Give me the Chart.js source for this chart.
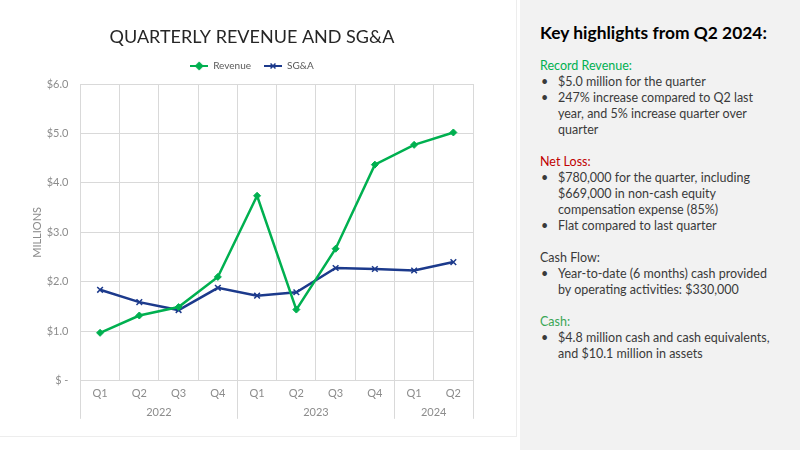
<!DOCTYPE html>
<html>
<head>
<meta charset="utf-8">
<script src="https://cdn.jsdelivr.net/npm/chart.js@4.4.1/dist/chart.umd.min.js"></script>
<style>
html, body { margin: 0; padding: 0; background: #fff; }
body { width: 800px; height: 450px; position: relative; overflow: hidden; font-family: Lato, "Open Sans", sans-serif; }
#chartBox { position: absolute; left: 0; top: 0; width: 516px; height: 436px; border-right: 1px solid #ededed; border-bottom: 1px solid #ededed; }
#side { position: absolute; left: 520px; top: 0; width: 280px; height: 450px; background: #f2f2f2; color: #3a3a3a; }
#side h2 { position: absolute; left: 20px; top: 21px; margin: 0; font-size: 17.4px; line-height: 24px; font-weight: 700; color: #000; white-space: nowrap; }
#notes { position: absolute; left: 20px; top: 58px; font-size: 12.5px; line-height: 16px; white-space: nowrap; }
#notes .gap { height: 16px; }
#notes ul { list-style: none; margin: 0; padding: 0; }
#notes li { position: relative; padding-left: 18px; }
#notes li:before { content: "\2022"; position: absolute; left: 1px; }
.green { color: #00b050; }
.red { color: #c00000; }
.cash { color: #3aa655; }
</style>
</head>
<body>
<div id="chartBox"><canvas id="chart" width="516" height="436"></canvas></div>
<div id="side">
  <h2>Key highlights from Q2 2024:</h2>
  <div id="notes">
    <div class="green">Record Revenue:</div>
    <ul>
      <li>$5.0 million for the quarter</li>
      <li>247% increase compared to Q2 last<br>year, and 5% increase quarter over<br>quarter</li>
    </ul>
    <div class="gap"></div>
    <div class="red">Net Loss:</div>
    <ul>
      <li>$780,000 for the quarter, including<br>$669,000 in non-cash equity<br>compensation expense (85%)</li>
      <li>Flat compared to last quarter</li>
    </ul>
    <div class="gap"></div>
    <div>Cash Flow:</div>
    <ul>
      <li>Year-to-date (6 months) cash provided<br>by operating activities: $330,000</li>
    </ul>
    <div class="gap"></div>
    <div class="cash">Cash:</div>
    <ul>
      <li>$4.8 million cash and cash equivalents,<br>and $10.1 million in assets</li>
    </ul>
  </div>
</div>
<script>
// quarters and their year groups
const quarters = ['Q1', 'Q2', 'Q3', 'Q4', 'Q1', 'Q2', 'Q3', 'Q4', 'Q1', 'Q2'];
const years = ['2022', '2022', '2022', '2022', '2023', '2023', '2023', '2023', '2024', '2024'];

// values in $ millions
const revenue = [0.97, 1.32, 1.49, 2.10, 3.74, 1.44, 2.67, 4.37, 4.77, 5.02];
const sga = [1.84, 1.59, 1.43, 1.88, 1.72, 1.79, 2.28, 2.26, 2.23, 2.40];

const greenColor = '#00b050';
const navyColor = '#1c3a8c';
const gridColor = '#d9d9d9';
const labelColor = '#8c8c8c';

Chart.defaults.font.family = 'Lato, "Open Sans", sans-serif';

function legendMarker(color, style, radius) {
    const c = document.createElement('canvas');
    c.width = 18;
    c.height = 10;
    const ctx = c.getContext('2d');
    ctx.strokeStyle = color;
    ctx.fillStyle = color;
    ctx.lineWidth = 2;
    ctx.beginPath();
    ctx.moveTo(0, 5);
    ctx.lineTo(18, 5);
    ctx.stroke();
    ctx.lineWidth = 1.5;
    Chart.helpers.drawPoint(ctx, { pointStyle: style, radius: radius, borderWidth: 1.5 }, 9, 5);
    return c;
}

// a little more room under the legend
const legendGap = {
    id: 'legendGap',
    beforeInit(chart) {
        const fit = chart.legend.fit;
        chart.legend.fit = function () {
            fit.bind(chart.legend)();
            this.height += 3;
        };
    }
};

// second row of the x axis: year names and the lines between year groups
const yearAxis = {
    id: 'yearAxis',
    afterDraw(chart) {
        const ctx = chart.ctx;
        const x = chart.scales.x;
        const bottom = chart.chartArea.bottom;
        const half = (x.getPixelForValue(1) - x.getPixelForValue(0)) / 2;
        ctx.save();
        ctx.strokeStyle = gridColor;
        ctx.lineWidth = 1;
        ctx.fillStyle = labelColor;
        ctx.font = '11px ' + Chart.defaults.font.family;
        ctx.textAlign = 'center';
        ctx.textBaseline = 'middle';
        let start = 0;
        for (let i = 1; i <= years.length; i++) {
            if (i === years.length || years[i] !== years[start]) {
                const left = x.getPixelForValue(start) - half;
                const right = x.getPixelForValue(i - 1) + half;
                ctx.beginPath();
                ctx.moveTo(Math.round(left) + 0.5, bottom);
                ctx.lineTo(Math.round(left) + 0.5, bottom + 38);
                if (i === years.length) {
                    ctx.moveTo(Math.round(right) + 0.5, bottom);
                    ctx.lineTo(Math.round(right) + 0.5, bottom + 38);
                }
                ctx.stroke();
                ctx.fillText(years[start], (left + right) / 2, bottom + 32);
                start = i;
            }
        }
        ctx.restore();
    }
};

new Chart(document.getElementById('chart'), {
    type: 'line',
    data: {
        labels: quarters,
        datasets: [
            {
                label: 'Revenue',
                data: revenue,
                borderColor: greenColor,
                backgroundColor: greenColor,
                borderWidth: 2.5,
                pointStyle: 'rectRot',
                pointRadius: 3.5,
                pointBorderWidth: 1,
                tension: 0
            },
            {
                label: 'SG&A',
                data: sga,
                borderColor: navyColor,
                backgroundColor: navyColor,
                borderWidth: 2.5,
                pointStyle: 'crossRot',
                pointRadius: 4,
                pointBorderWidth: 1.5,
                tension: 0
            }
        ]
    },
    options: {
        responsive: false,
        animation: false,
        layout: { padding: { left: 31, right: 43, top: 5, bottom: 30 } },
        plugins: {
            title: {
                display: true,
                text: 'QUARTERLY REVENUE AND SG&A',
                color: '#262626',
                font: { size: 18, weight: 'normal', lineHeight: 1 },
                padding: { top: 23, bottom: 2 }
            },
            legend: {
                display: true,
                labels: {
                    color: '#595959',
                    font: { size: 10 },
                    usePointStyle: true,
                    pointStyleWidth: 18,
                    padding: 13,
                    generateLabels(chart) {
                        return [
                            { text: 'Revenue', pointStyle: legendMarker(greenColor, 'rectRot', 3.5), fontColor: '#595959', datasetIndex: 0, lineWidth: 0, strokeStyle: 'transparent', fillStyle: 'transparent' },
                            { text: 'SG&A', pointStyle: legendMarker(navyColor, 'crossRot', 3.5), fontColor: '#595959', datasetIndex: 1, lineWidth: 0, strokeStyle: 'transparent', fillStyle: 'transparent' }
                        ];
                    }
                }
            },
            tooltip: { enabled: false }
        },
        scales: {
            x: {
                offset: true,
                grid: { color: gridColor, drawTicks: false, offset: true },
                border: { color: gridColor },
                ticks: { color: labelColor, font: { size: 11 }, padding: 6, maxRotation: 0 }
            },
            y: {
                min: 0,
                max: 6,
                grid: { color: gridColor, drawTicks: false },
                border: { color: gridColor },
                ticks: {
                    stepSize: 1,
                    color: labelColor,
                    font: { size: 11 },
                    padding: 12,
                    callback: v => v === 0 ? '$ -' : '$' + v.toFixed(1)
                },
                title: {
                    display: true,
                    text: 'MILLIONS',
                    color: labelColor,
                    font: { size: 11 },
                    padding: { top: 0, bottom: -9.5 }
                }
            }
        }
    },
    plugins: [legendGap, yearAxis]
});
</script>
</body>
</html>
